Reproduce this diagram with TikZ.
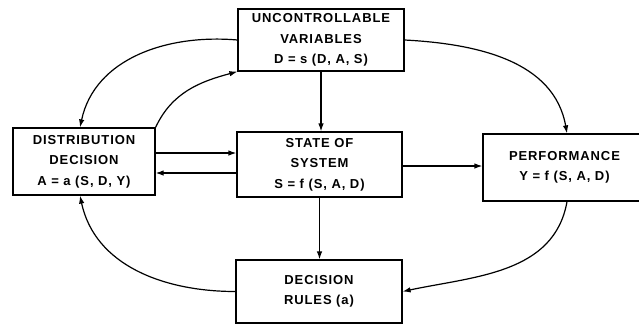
\documentclass[tikz,border=0pt]{standalone}
\usepackage{fontspec}
\setmainfont{Liberation Sans}[LetterSpace=7]
\usetikzlibrary{arrows.meta}
\tikzset{
  block/.style={draw, line width=1.2pt, inner sep=0pt, align=center,
    font=\fontsize{13}{20.5}\selectfont\bfseries},
  flow/.style={line width=1.2pt, -{Latex[length=8pt,width=5.5pt]}}
}
\begin{document}
\begin{tikzpicture}[x=1pt,y=-1pt]
  \useasboundingbox (0,0) rectangle (639,325);
  \node[block, minimum width=166pt, minimum height=62pt] (uncontr) at (321, 40) {UNCONTROLLABLE\\VARIABLES\\D = s (D, A, S)};
  \node[block, minimum width=142pt, minimum height=67pt] (distrib) at (84, 161.5) {DISTRIBUTION\\DECISION\\A = a (S, D, Y)};
  \node[block, minimum width=165pt, minimum height=65pt] (state) at (319.5, 164.5) {STATE OF\\SYSTEM\\S = f (S, A, D)};
  \node[block, minimum width=163pt, minimum height=67pt] (perform) at (564.5, 167.5) {PERFORMANCE\\Y = f (S, A, D)};
  \node[block, minimum width=166pt, minimum height=63pt] (rules) at (319, 291.5) {DECISION\\RULES (a)};
  \draw[flow] (uncontr.west) to[out=175, in=78] ([xshift=-4pt]distrib.north);
  \draw[flow] (distrib.north east) to[out=65, in=195] (uncontr.south west);
  \draw[flow] (uncontr.south) -- (uncontr.south |- state.north);
  \draw[flow] ([yshift=8.5pt]distrib.east) -- ([yshift=8.5pt]distrib.east -| state.west);
  \draw[flow] ([yshift=-11.5pt]distrib.east -| state.west) -- ([yshift=-11.5pt]distrib.east);
  \draw[flow] ([yshift=-1.5pt]state.east) -- ([yshift=-1.5pt]state.east -| perform.west);
  \draw[flow] (uncontr.east) to[out=-3, in=100] ([xshift=2.5pt]perform.north);
  \draw[flow] ([xshift=2.5pt]perform.south) to[out=-100, in=12] (rules.east);
  \draw[flow] (state.south) -- (state.south |- rules.north);
  \draw[flow] (rules.west) to[out=180, in=-78] ([xshift=-4pt]distrib.south);
\end{tikzpicture}
\end{document}
